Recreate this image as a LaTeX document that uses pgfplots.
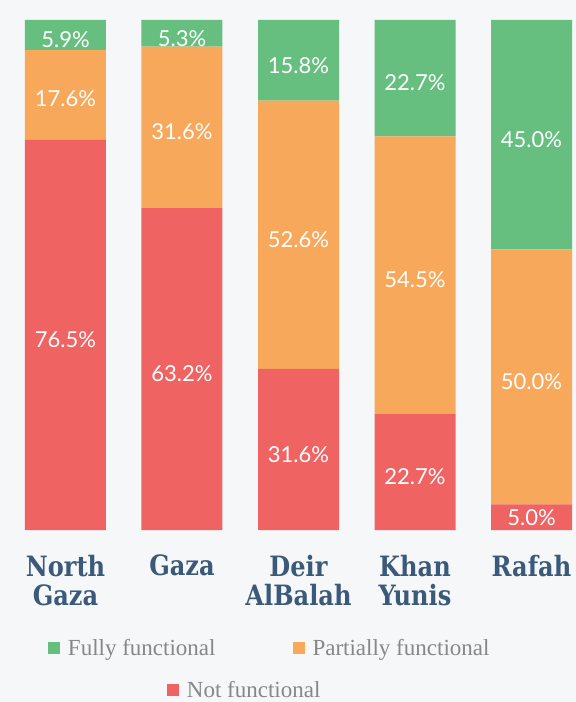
\documentclass[border=0pt]{standalone}
\usepackage{fontspec}
\usepackage{pgfplots}
\pgfplotsset{compat=1.18}
\newfontfamily\latofont{Lato}
\newfontfamily\slabfont{DejaVu Serif}[FakeStretch=0.86]
\newfontfamily\legfont{Liberation Serif}
\definecolor{bgcol}{RGB}{246,247,249}
\definecolor{cgreen}{RGB}{102,191,127}
\definecolor{corange}{RGB}{247,168,91}
\definecolor{cred}{RGB}{240,99,99}
\definecolor{catcol}{RGB}{59,90,122}
\definecolor{leggray}{RGB}{135,135,135}
\begin{document}
\begin{tikzpicture}[x=1pt,y=1pt]
\fill[bgcol] (0,0) rectangle (576,702);
\pgfplotsset{
  common/.style={
    at={(0pt,172pt)}, anchor=south west,
    scale only axis, width=576pt, height=510pt,
    xmin=-0.5622, xmax=4.382, ymin=0, ymax=100,
  }
}
\begin{axis}[common,
  ybar stacked, bar width=81pt,
  axis line style={draw=none}, major tick length=0pt,
  ytick=\empty, xtick={0,1,2,3,4},
  xticklabels={North\\Gaza, Gaza, Deir\\AlBalah, Khan\\Yunis, Rafah},
  xticklabel style={align=center, inner sep=0pt, yshift=-25pt,
    font=\slabfont\bfseries\fontsize{28}{29}\selectfont, text=catcol},
  clip=false,
]
\addplot[fill=cred, draw=none] coordinates {(0,76.5) (1,63.2) (2,31.6) (3,22.7) (4,5.0)};
\addplot[fill=corange, draw=none] coordinates {(0,17.6) (1,31.6) (2,52.6) (3,54.5) (4,50.0)};
\addplot[fill=cgreen, draw=none] coordinates {(0,5.9) (1,5.2) (2,15.8) (3,22.8) (4,45.0)};
\end{axis}
% value labels
\begin{axis}[common, hide axis, clip=false]
\addplot[only marks, mark=none, point meta=explicit symbolic,
  nodes near coords, nodes near coords align={center},
  every node near coord/.style={anchor=center, text=white, yshift=-5pt,
    font=\latofont\fontsize{22}{26}\selectfont}]
  coordinates {
  (0,38.25) [76.5\%] (0,85.55) [17.6\%] (0,97.05) [5.9\%]
  (1,31.6) [63.2\%] (1,79.0) [31.6\%] (1,97.4) [5.3\%]
  (2,15.8) [31.6\%] (2,57.9) [52.6\%] (2,92.1) [15.8\%]
  (3,11.35) [22.7\%] (3,50.0) [54.5\%] (3,88.65) [22.7\%]
  (4,3.5) [5.0\%] (4,30.0) [50.0\%] (4,77.5) [45.0\%]
  };
\end{axis}
% legend row 1
\begin{axis}[common, hide axis,
  legend columns=2,
  legend image code/.code={\fill[#1] (0pt,-6pt) rectangle (12pt,6pt);},
  legend style={at={(0.0833,-0.2314)}, anchor=west, draw=none, fill=none,
    inner sep=0pt, outer sep=0pt,
    nodes={inner sep=0pt, text=leggray, font=\legfont\fontsize{23}{26}\selectfont},
    /tikz/every odd column/.append style={column sep=8pt},
    /tikz/every even column/.append style={column sep=77pt}},
]
\addlegendimage{fill=cgreen, draw=none}
\addlegendentry{Fully functional}
\addlegendimage{fill=corange, draw=none}
\addlegendentry{Partially functional}
\end{axis}
% legend row 2
\begin{axis}[common, hide axis,
  legend image code/.code={\fill[#1] (0pt,-6pt) rectangle (12pt,6pt);},
  legend style={at={(0.2899,-0.3137)}, anchor=west, draw=none, fill=none,
    inner sep=0pt, outer sep=0pt,
    nodes={inner sep=0pt, text=leggray, font=\legfont\fontsize{23}{26}\selectfont},
    /tikz/every odd column/.append style={column sep=8pt}},
]
\addlegendimage{fill=cred, draw=none}
\addlegendentry{Not functional}
\end{axis}
\useasboundingbox (0,0) rectangle (576,702);
\end{tikzpicture}
\end{document}
